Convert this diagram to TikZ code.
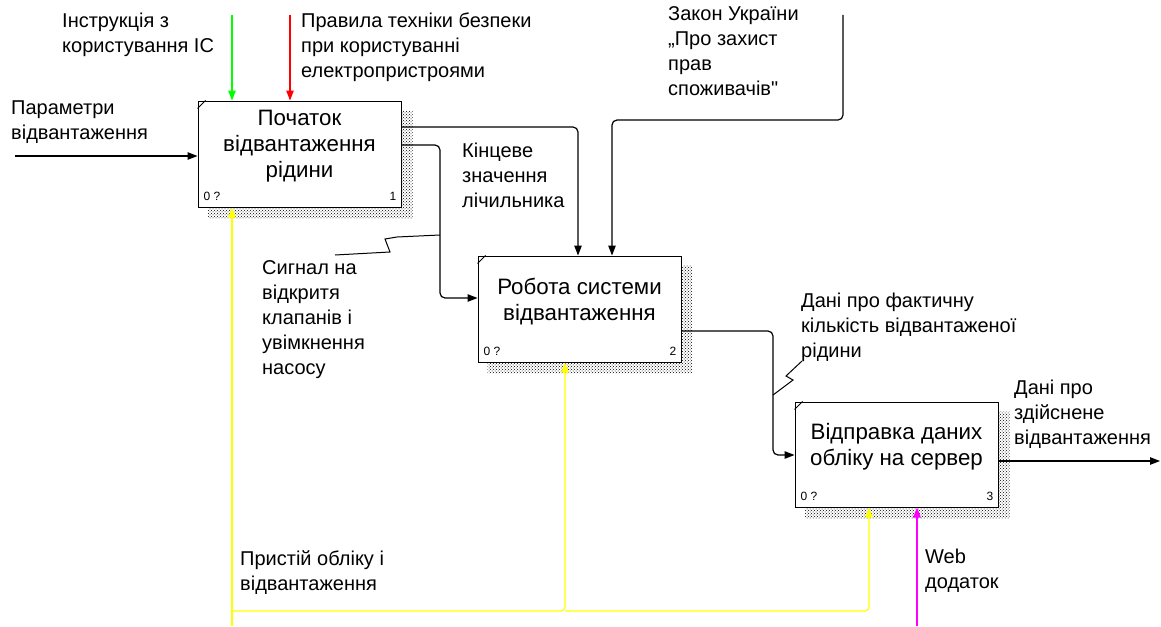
\documentclass[tikz,border=0pt]{standalone}
\usepackage{fontspec}
\setmainfont{Liberation Sans}[Ligatures=TeXOff]
\usetikzlibrary{arrows.meta,calc,patterns,backgrounds}
\definecolor{cgreen}{RGB}{0,255,0}
\definecolor{cred}{RGB}{255,0,0}
\definecolor{cyellow}{RGB}{255,255,0}
\definecolor{cmag}{RGB}{255,0,255}
\begin{document}
\begin{tikzpicture}[x=1pt,y=-1pt,
  box/.style={draw,line width=1pt,fill=white,minimum width=203pt,minimum height=106pt,inner sep=0pt,align=center,font=\fontsize{22.3}{26}\selectfont},
  lbl/.style={anchor=north west,inner sep=0pt,align=left,font=\fontsize{20}{25}\selectfont,execute at begin node=\strut},
  tag/.style={inner sep=0pt,font=\fontsize{12}{14}\selectfont},
  con/.style={line width=1.2pt,rounded corners=5pt},
  arr/.style={con,-{Triangle[length=10pt,width=7.5pt]}},
  shadowfill/.style={pattern=crosshatch dots,pattern color=black},
]
\useasboundingbox (0,0) rectangle (1161,626);

% boxes
\node[box] (b1) at (299.5,154) {Початок\\відвантаження\\рідини\\[-6pt]\mbox{}};
\node[box] (b2) at (579.5,309) {Робота системи\\відвантаження\\[-6pt]\mbox{}};
\node[box,minimum height=105pt] (b3) at (896.5,454.5) {Відправка даних\\обліку на сервер\\[-6pt]\mbox{}};

\begin{scope}[on background layer]
\foreach \b in {b1,b2,b3}{
  \fill[shadowfill] ($(\b.north east)+(0,10)$) -- ($(\b.north east)+(11,10)$) -- ($(\b.south east)+(11,11)$) -- ($(\b.south west)+(10,11)$) -- ($(\b.south west)+(10,0)$) -- (\b.south east) -- cycle;
}
\end{scope}

\foreach \b/\n in {b1/1,b2/2,b3/3}{
  \node[tag,anchor=base west] (tz\n) at ($(\b.south west)+(6,-7)$) {0 ?};
  \node[tag,anchor=base east] (tn\n) at ($(\b.south east)+(-5,-7)$) {\n};
  \draw[line width=0.8pt] ($(\b.north west)+(0,8)$) -- ($(\b.north west)+(8,0)$);
}

% input
\coordinate (inP) at (15,156);
\draw[arr] (inP) -- (inP -| b1.west);

% controls of box 1
\coordinate (cG) at (232,15);
\draw[arr,cgreen] (cG) -- (cG |- b1.north);
\coordinate (cR) at (290,15);
\draw[arr,cred] (cR) -- (cR |- b1.north);

% outputs of box 1
\coordinate (o1a) at (578,127);
\draw[arr] (b1.east |- o1a) -- (o1a) -- (o1a |- b2.north);
\coordinate (o1b) at (440,145);
\coordinate (o1c) at (440,298);
\draw[arr] (b1.east |- o1b) -- (o1b) -- (o1c) -- (o1c -| b2.west);
\coordinate (s1) at (440,235);
\coordinate (s1e) at (335,255);
\draw[line width=1pt] (s1) -- (397,237) -- (385,239) -- (390,252) -- (s1e);

% law control
\coordinate (zk) at (843,15);
\coordinate (zk2) at (843,120);
\coordinate (zk3) at (612,120);
\draw[arr] (zk) -- (zk2) -- (zk3) -- (zk3 |- b2.north);

% output of box 2
\coordinate (o2a) at (773,331);
\coordinate (o2b) at (773,455);
\draw[arr] (b2.east |- o2a) -- (o2a) -- (o2b) -- (o2b -| b3.west);
\coordinate (s2) at (773,395);
\coordinate (s2e) at (802,361);
\draw[line width=1pt] (s2) -- (793,380) -- (786,376) -- (s2e);

% output of box 3
\coordinate (o3) at (1160,461);
\draw[arr] (b3.east |- o3) -- (o3);

% mechanisms
\coordinate (y1) at (232,626);
\draw[arr,cyellow] (y1) -- (y1 |- b1.south);
\coordinate (yh) at (232,611);
\coordinate (y2) at (565,611);
\coordinate (y3) at (869,611);
\draw[arr,cyellow,rounded corners=4pt] (yh) -- (y2) -- (y2 |- b2.south);
\draw[arr,cyellow,rounded corners=4pt] (y2) -- (y3) -- (y3 |- b3.south);
\coordinate (m1) at (917,626);
\draw[arr,cmag] (m1) -- (m1 |- b3.south);

% labels
\node[lbl] (l1) at (11,100.5) {Параметри\\відвантаження};
\node[lbl] (l2) at (62,13) {Інструкція з\\користування ІС};
\node[lbl] (l3) at (301,13) {Правила техніки безпеки\\при користуванні\\електропристроями};
\node[lbl] (l4) at (668,6) {Закон України\\„Про захист\\прав\\споживачів{\char"22}};
\node[lbl] (l5) at (462,142.5) {Кінцеве\\значення\\лічильника};
\node[lbl] (l6) at (262,260.5) {Сигнал на\\відкритя\\клапанів і\\увімкнення\\насосу};
\node[lbl] (l7) at (801,292.5) {Дані про фактичну\\кількість відвантаженої\\рідини};
\node[lbl] (l8) at (1014,380) {Дані про\\здійснене\\відвантаження};
\node[lbl] (l9) at (240,550.5) {Пристій обліку і\\відвантаження};
\node[lbl] (l10) at (925,548.5) {Web\\додаток};
\end{tikzpicture}
\end{document}
